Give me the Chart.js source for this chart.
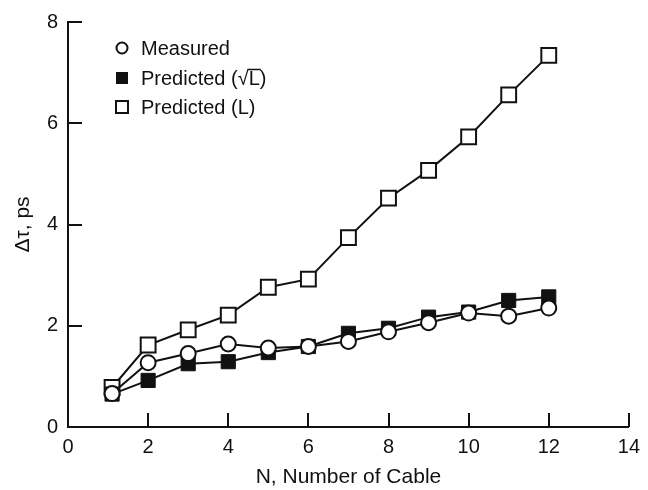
<!DOCTYPE html>
<html>
<head>
<meta charset="utf-8">
<script src="https://cdn.jsdelivr.net/npm/chart.js@4/dist/chart.umd.min.js"></script>
<style>
  html, body { margin: 0; padding: 0; background: #fff; }
</style>
</head>
<body>
<canvas id="delayChart" width="648" height="490"></canvas>
<script>
// values
const cableCount = [1.1, 2, 3, 4, 5, 6, 7, 8, 9, 10, 11, 12];
const measured = [0.66, 1.27, 1.45, 1.64, 1.56, 1.59, 1.69, 1.88, 2.06, 2.25, 2.19, 2.35];
const predictedSqrtL = [0.65, 0.92, 1.25, 1.29, 1.47, 1.59, 1.85, 1.95, 2.17, 2.27, 2.5, 2.57];
const predictedL = [0.78, 1.62, 1.92, 2.21, 2.76, 2.92, 3.74, 4.52, 5.07, 5.73, 6.56, 7.34];
const xTicks = [0, 2, 4, 6, 8, 10, 12, 14];
const yTicks = [0, 2, 4, 6, 8];

const FONT = "'Liberation Sans', Arial, Helvetica, sans-serif";
const INK = '#111';

function toPoints(ys) {
    return cableCount.map((x, i) => ({ x: x, y: ys[i] }));
}

// inward tick marks like the printed figure
const innerTicks = {
    id: 'innerTicks',
    afterDraw(chart) {
        const ctx = chart.ctx;
        const xs = chart.scales.x;
        const ys = chart.scales.y;
        const len = 14;
        ctx.save();
        ctx.strokeStyle = INK;
        ctx.lineWidth = 2;
        ctx.beginPath();
        xTicks.slice(1).forEach(v => {
            const px = Math.round(xs.getPixelForValue(v));
            ctx.moveTo(px, ys.bottom);
            ctx.lineTo(px, ys.bottom - len);
        });
        yTicks.slice(1).forEach(v => {
            const py = Math.round(ys.getPixelForValue(v));
            ctx.moveTo(xs.left, py);
            ctx.lineTo(xs.left + len, py);
        });
        ctx.stroke();
        ctx.restore();
    }
};

// legend box in the upper left of the plot
const figureLegend = {
    id: 'figureLegend',
    afterDraw(chart) {
        const ctx = chart.ctx;
        const symX = 122;
        const textX = 141;
        const rows = [48, 78, 107];
        ctx.save();
        ctx.font = '20px ' + FONT;
        ctx.fillStyle = INK;
        ctx.strokeStyle = INK;
        ctx.lineWidth = 2;
        ctx.textBaseline = 'middle';

        // Measured
        ctx.beginPath();
        ctx.arc(symX, rows[0], 5.5, 0, Math.PI * 2);
        ctx.fillStyle = '#fff';
        ctx.fill();
        ctx.stroke();
        ctx.fillStyle = INK;
        ctx.fillText('Measured', textX, rows[0] + 1);

        // Predicted (sqrt L)
        ctx.fillRect(symX - 6, rows[1] - 6, 12, 12);
        const label = 'Predicted (\u221AL)';
        ctx.fillText(label, textX, rows[1] + 1);
        const before = ctx.measureText('Predicted (\u221A').width;
        const withL = ctx.measureText('Predicted (\u221AL').width;
        ctx.beginPath();
        ctx.lineWidth = 1.5;
        ctx.moveTo(textX + before - 1, rows[1] - 8.5);
        ctx.lineTo(textX + withL + 1, rows[1] - 8.5);
        ctx.stroke();

        // Predicted (L)
        ctx.lineWidth = 2;
        ctx.fillStyle = '#fff';
        ctx.fillRect(symX - 6, rows[2] - 6, 12, 12);
        ctx.strokeRect(symX - 6, rows[2] - 6, 12, 12);
        ctx.fillStyle = INK;
        ctx.fillText('Predicted (L)', textX, rows[2] + 1);
        ctx.restore();
    }
};

const ctx = document.getElementById('delayChart').getContext('2d');
new Chart(ctx, {
    type: 'line',
    data: {
        datasets: [
            {
                label: 'Measured',
                data: toPoints(measured),
                borderColor: INK,
                borderWidth: 2,
                pointStyle: 'circle',
                pointRadius: 7.5,
                pointBackgroundColor: '#fff',
                pointBorderColor: INK,
                pointBorderWidth: 2,
                tension: 0
            },
            {
                label: 'Predicted (\u221AL)',
                data: toPoints(predictedSqrtL),
                borderColor: INK,
                borderWidth: 2,
                pointStyle: 'rect',
                pointRadius: 10,
                pointBackgroundColor: INK,
                pointBorderColor: INK,
                pointBorderWidth: 1,
                tension: 0
            },
            {
                label: 'Predicted (L)',
                data: toPoints(predictedL),
                borderColor: INK,
                borderWidth: 2,
                pointStyle: 'rect',
                pointRadius: 10.5,
                pointBackgroundColor: '#fff',
                pointBorderColor: INK,
                pointBorderWidth: 2,
                tension: 0
            }
        ]
    },
    options: {
        responsive: false,
        animation: false,
        devicePixelRatio: 1,
        layout: {
            padding: { top: 19, right: 11, bottom: 0, left: 0 }
        },
        plugins: {
            legend: { display: false },
            tooltip: { enabled: false }
        },
        scales: {
            x: {
                type: 'linear',
                min: 0,
                max: 14,
                afterFit: scale => { scale.height = 63; },
                afterBuildTicks: scale => { scale.ticks = xTicks.map(v => ({ value: v })); },
                grid: { display: false, drawTicks: false },
                border: { display: true, color: INK, width: 2 },
                ticks: {
                    padding: 8,
                    color: INK,
                    font: { family: FONT, size: 20 }
                },
                title: {
                    display: true,
                    text: 'N, Number of Cable',
                    color: INK,
                    font: { family: FONT, size: 21 },
                    padding: { top: 0, bottom: 0 }
                }
            },
            y: {
                type: 'linear',
                min: 0,
                max: 8,
                afterFit: scale => { scale.width = 68; },
                afterBuildTicks: scale => { scale.ticks = yTicks.map(v => ({ value: v })); },
                grid: { display: false, drawTicks: false },
                border: { display: true, color: INK, width: 2 },
                ticks: {
                    padding: 10,
                    color: INK,
                    font: { family: FONT, size: 20 }
                },
                title: {
                    display: true,
                    text: '\u0394\u03C4, ps',
                    color: INK,
                    font: { family: FONT, size: 21 },
                    padding: { top: 11, bottom: 0 }
                }
            }
        }
    },
    plugins: [innerTicks, figureLegend]
});
</script>
</body>
</html>
